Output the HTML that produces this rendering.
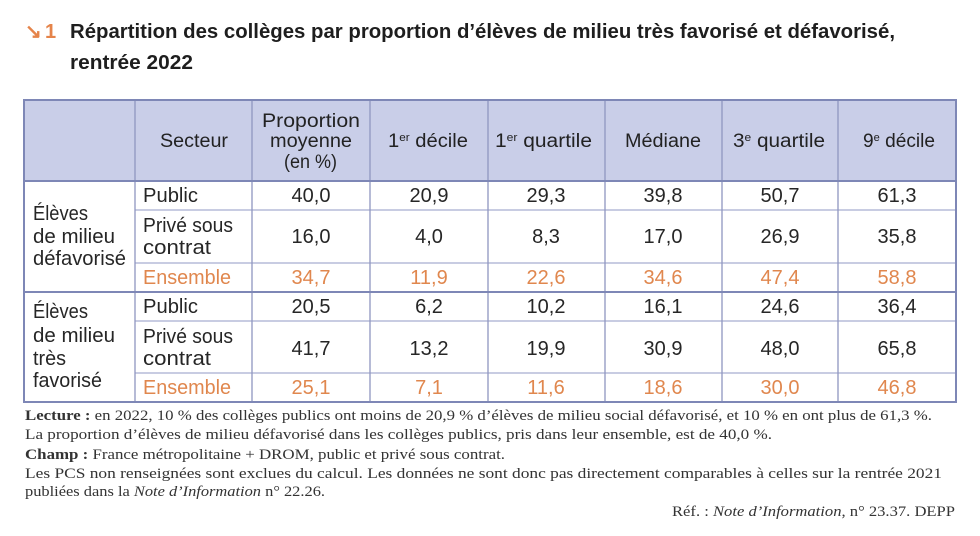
<!DOCTYPE html>
<html>
<head>
<meta charset="utf-8">
<style>
html,body{margin:0;padding:0;background:#fff;}
svg{display:block;}
.t{font-family:"Liberation Sans",sans-serif;font-weight:bold;fill:#1e1e1e;font-size:20px;}
.h{font-family:"Liberation Sans",sans-serif;fill:#222;font-size:19px;}
.c{font-family:"Liberation Sans",sans-serif;fill:#262626;font-size:20px;}
.o{fill:#e0874e;}
.n{text-anchor:middle;}
.f{font-family:"Liberation Serif",serif;fill:#333;font-size:15px;}
</style>
</head>
<body>
<svg width="980" height="536" viewBox="0 0 980 536" xmlns="http://www.w3.org/2000/svg">
<rect width="980" height="536" fill="#fff"/>
<!-- Title -->
<text x="25" y="38" class="t" style="fill:#e5844a" font-size="18">↘</text>
<text x="45" y="38" class="t" style="fill:#e5844a">1</text>
<text x="70" y="38" class="t" textLength="825" lengthAdjust="spacingAndGlyphs">Répartition des collèges par proportion d’élèves de milieu très favorisé et défavorisé,</text>
<text x="70" y="69" class="t" textLength="123" lengthAdjust="spacingAndGlyphs">rentrée 2022</text>

<!-- Header background -->
<rect x="24" y="100" width="932" height="81" fill="#c9cee8"/>

<!-- Inner horizontal lines (group rows) -->
<g stroke="#a8aed0" stroke-width="1.2">
<line x1="135" y1="210" x2="956" y2="210"/>
<line x1="135" y1="263" x2="956" y2="263"/>
<line x1="135" y1="321" x2="956" y2="321"/>
<line x1="135" y1="373" x2="956" y2="373"/>
</g>
<!-- Vertical lines -->
<g stroke="#8f96c0" stroke-width="1.3">
<line x1="135" y1="100" x2="135" y2="402"/>
<line x1="252" y1="100" x2="252" y2="402"/>
<line x1="370" y1="100" x2="370" y2="402"/>
<line x1="488" y1="100" x2="488" y2="402"/>
<line x1="605" y1="100" x2="605" y2="402"/>
<line x1="722" y1="100" x2="722" y2="402"/>
<line x1="838" y1="100" x2="838" y2="402"/>
</g>
<!-- Thick lines -->
<g stroke="#7e87b6" stroke-width="2">
<line x1="24" y1="181" x2="956" y2="181"/>
<line x1="24" y1="292" x2="956" y2="292"/>
<rect x="24" y="100" width="932" height="302" fill="none"/>
</g>

<!-- Header text -->
<text x="160" y="147" class="h" textLength="68" lengthAdjust="spacingAndGlyphs">Secteur</text>
<text x="262" y="127" class="h" textLength="98" lengthAdjust="spacingAndGlyphs">Proportion</text>
<text x="270" y="147" class="h" textLength="82" lengthAdjust="spacingAndGlyphs">moyenne</text>
<text x="284" y="168" class="h" textLength="53" lengthAdjust="spacingAndGlyphs">(en %)</text>
<text x="388" y="147" class="h" textLength="80" lengthAdjust="spacingAndGlyphs">1<tspan font-size="11" dy="-6">er</tspan><tspan dy="6"> décile</tspan></text>
<text x="495" y="147" class="h" textLength="97" lengthAdjust="spacingAndGlyphs">1<tspan font-size="11" dy="-6">er</tspan><tspan dy="6"> quartile</tspan></text>
<text x="625" y="147" class="h" textLength="76" lengthAdjust="spacingAndGlyphs">Médiane</text>
<text x="733" y="147" class="h" textLength="92" lengthAdjust="spacingAndGlyphs">3<tspan font-size="11" dy="-6">e</tspan><tspan dy="6"> quartile</tspan></text>
<text x="863" y="147" class="h" textLength="72" lengthAdjust="spacingAndGlyphs">9<tspan font-size="11" dy="-6">e</tspan><tspan dy="6"> décile</tspan></text>

<!-- Group labels -->
<text x="33" y="220" class="c" textLength="55" lengthAdjust="spacingAndGlyphs">Élèves</text>
<text x="33" y="243" class="c" textLength="82" lengthAdjust="spacingAndGlyphs">de milieu</text>
<text x="33" y="265" class="c" textLength="93" lengthAdjust="spacingAndGlyphs">défavorisé</text>
<text x="33" y="318" class="c" textLength="55" lengthAdjust="spacingAndGlyphs">Élèves</text>
<text x="33" y="342" class="c" textLength="82" lengthAdjust="spacingAndGlyphs">de milieu</text>
<text x="33" y="365" class="c" textLength="33" lengthAdjust="spacingAndGlyphs">très</text>
<text x="33" y="387" class="c" textLength="69" lengthAdjust="spacingAndGlyphs">favorisé</text>

<!-- Secteur labels -->
<text x="143" y="202" class="c" textLength="55" lengthAdjust="spacingAndGlyphs">Public</text>
<text x="143" y="232" class="c" textLength="90" lengthAdjust="spacingAndGlyphs">Privé sous</text>
<text x="143" y="254" class="c" textLength="68" lengthAdjust="spacingAndGlyphs">contrat</text>
<text x="143" y="284" class="c o" textLength="88" lengthAdjust="spacingAndGlyphs">Ensemble</text>
<text x="143" y="313" class="c" textLength="55" lengthAdjust="spacingAndGlyphs">Public</text>
<text x="143" y="343" class="c" textLength="90" lengthAdjust="spacingAndGlyphs">Privé sous</text>
<text x="143" y="365" class="c" textLength="68" lengthAdjust="spacingAndGlyphs">contrat</text>
<text x="143" y="394" class="c o" textLength="88" lengthAdjust="spacingAndGlyphs">Ensemble</text>

<!-- Data -->
<g>
<text x="311" y="202" class="c n">40,0</text>
<text x="429" y="202" class="c n">20,9</text>
<text x="546" y="202" class="c n">29,3</text>
<text x="663" y="202" class="c n">39,8</text>
<text x="780" y="202" class="c n">50,7</text>
<text x="897" y="202" class="c n">61,3</text>

<text x="311" y="243" class="c n">16,0</text>
<text x="429" y="243" class="c n">4,0</text>
<text x="546" y="243" class="c n">8,3</text>
<text x="663" y="243" class="c n">17,0</text>
<text x="780" y="243" class="c n">26,9</text>
<text x="897" y="243" class="c n">35,8</text>

<text x="311" y="284" class="c n o">34,7</text>
<text x="429" y="284" class="c n o">11,9</text>
<text x="546" y="284" class="c n o">22,6</text>
<text x="663" y="284" class="c n o">34,6</text>
<text x="780" y="284" class="c n o">47,4</text>
<text x="897" y="284" class="c n o">58,8</text>

<text x="311" y="313" class="c n">20,5</text>
<text x="429" y="313" class="c n">6,2</text>
<text x="546" y="313" class="c n">10,2</text>
<text x="663" y="313" class="c n">16,1</text>
<text x="780" y="313" class="c n">24,6</text>
<text x="897" y="313" class="c n">36,4</text>

<text x="311" y="355" class="c n">41,7</text>
<text x="429" y="355" class="c n">13,2</text>
<text x="546" y="355" class="c n">19,9</text>
<text x="663" y="355" class="c n">30,9</text>
<text x="780" y="355" class="c n">48,0</text>
<text x="897" y="355" class="c n">65,8</text>

<text x="311" y="394" class="c n o">25,1</text>
<text x="429" y="394" class="c n o">7,1</text>
<text x="546" y="394" class="c n o">11,6</text>
<text x="663" y="394" class="c n o">18,6</text>
<text x="780" y="394" class="c n o">30,0</text>
<text x="897" y="394" class="c n o">46,8</text>
</g>

<!-- Footnotes -->
<text x="25" y="420" class="f" textLength="907" lengthAdjust="spacingAndGlyphs"><tspan font-weight="bold">Lecture :</tspan> en 2022, 10 % des collèges publics ont moins de 20,9 % d’élèves de milieu social défavorisé, et 10 % en ont plus de 61,3 %.</text>
<text x="25" y="439" class="f" textLength="747" lengthAdjust="spacingAndGlyphs">La proportion d’élèves de milieu défavorisé dans les collèges publics, pris dans leur ensemble, est de 40,0 %.</text>
<text x="25" y="459" class="f" textLength="480" lengthAdjust="spacingAndGlyphs"><tspan font-weight="bold">Champ :</tspan> France métropolitaine + DROM, public et privé sous contrat.</text>
<text x="25" y="478" class="f" textLength="917" lengthAdjust="spacingAndGlyphs">Les PCS non renseignées sont exclues du calcul. Les données ne sont donc pas directement comparables à celles sur la rentrée 2021</text>
<text x="25" y="496" class="f" textLength="300" lengthAdjust="spacingAndGlyphs">publiées dans la <tspan font-style="italic">Note d’Information</tspan> n° 22.26.</text>
<text x="672" y="516" class="f" textLength="283" lengthAdjust="spacingAndGlyphs">Réf. : <tspan font-style="italic">Note d’Information</tspan>, n° 23.37. DEPP</text>
</svg>
</body>
</html>
